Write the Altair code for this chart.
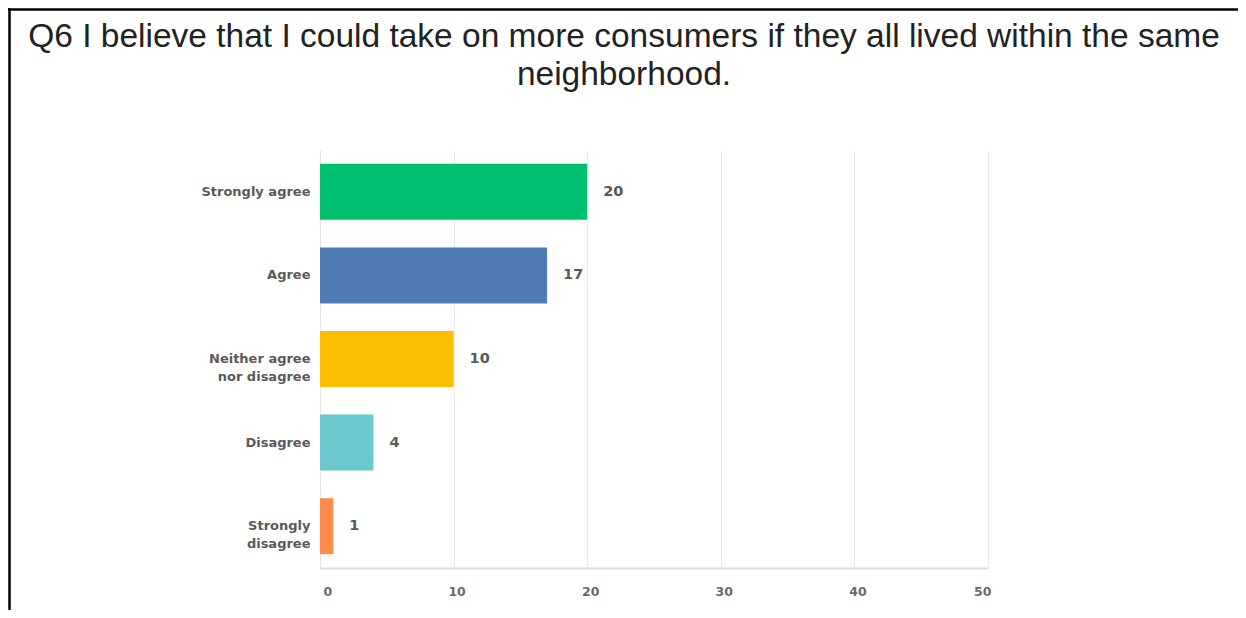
import altair as alt
import pandas as pd

categories = ["Strongly agree", "Agree", "Neither agree nor disagree", "Disagree", "Strongly disagree"]
counts = [20, 17, 10, 4, 1]
colors = ["#00BF6F", "#507CB6", "#F9BE00", "#6BC8CD", "#FF8B4F"]
x_ticks = [0, 10, 20, 30, 40, 50]
title_lines = [
    "Q6 I believe that I could take on more consumers if they all lived within the same",
    "neighborhood.",
]

df = pd.DataFrame({"answer": categories, "count": counts})

W, H = 668, 418
PAD_L, PAD_T = 312, 142
AX_FONT = "DejaVu Sans"

label_expr = (
    "datum.label == 'Neither agree nor disagree' ? ['Neither agree', 'nor disagree'] : "
    "datum.label == 'Strongly disagree' ? ['Strongly', 'disagree'] : datum.label"
)

y_enc = alt.Y(
    "answer:N",
    sort=categories,
    scale=alt.Scale(paddingInner=0.33, paddingOuter=0.165),
    axis=alt.Axis(
        title=None, ticks=False, domain=True, domainColor="#e6e6e6", domainWidth=1,
        labelFont=AX_FONT, labelFontSize=13, labelFontWeight="bold",
        labelColor="#5a5a5a", labelPadding=10, labelLineHeight=18,
        labelExpr=label_expr, grid=False,
    ),
)
x_enc = alt.X(
    "count:Q",
    scale=alt.Scale(domain=[0, 50], nice=False),
    axis=alt.Axis(
        title=None, values=x_ticks, ticks=False, grid=True, gridColor="#ebebeb",
        gridWidth=1, domainColor="#dcdcdc", domainWidth=2,
        labelFont=AX_FONT, labelFontSize=12.5, labelFontWeight="bold",
        labelColor="#6a6a6a", labelPadding=17, labelOffset=3,
    ),
)

bars = alt.Chart(df).mark_bar().encode(
    x=x_enc,
    y=y_enc,
    color=alt.Color("answer:N", scale=alt.Scale(domain=categories, range=colors), legend=None),
)

labels = alt.Chart(df).mark_text(
    align="left", baseline="middle", dx=16, font=AX_FONT, fontSize=14.5,
    fontWeight="bold", color="#5a5a5a",
).encode(x="count:Q", y=alt.Y("answer:N", sort=categories), text="count:Q")

one = pd.DataFrame({"k": [0]})
top_border = alt.Chart(one).mark_rule(color="#000000", strokeWidth=2.5).encode(
    x=alt.value(-PAD_L), x2=alt.value(W + 260), y=alt.value(-PAD_T + 1.5)
)
left_border = alt.Chart(one).mark_rule(color="#000000", strokeWidth=2.5).encode(
    x=alt.value(-PAD_L + 1.5), y=alt.value(-PAD_T), y2=alt.value(H + 60)
)

title_style = dict(font="Liberation Sans", fontSize=33.5, color="#222222",
                   align="center", baseline="alphabetic")
title1 = alt.Chart(one).mark_text(**title_style).encode(
    x=alt.value(304), y=alt.value(-103), text=alt.value(title_lines[0])
)
title2 = alt.Chart(one).mark_text(**title_style).encode(
    x=alt.value(304), y=alt.value(-65), text=alt.value(title_lines[1])
)

chart = alt.layer(bars, labels, top_border, left_border, title1, title2).properties(
    width=W,
    height=H,
    autosize=alt.AutoSizeParams(type="none"),
    padding={"left": PAD_L, "top": PAD_T, "right": 250, "bottom": 42},
).configure_view(stroke=None)

chart.save("out.html", embed_options={"renderer": "svg", "actions": False})
